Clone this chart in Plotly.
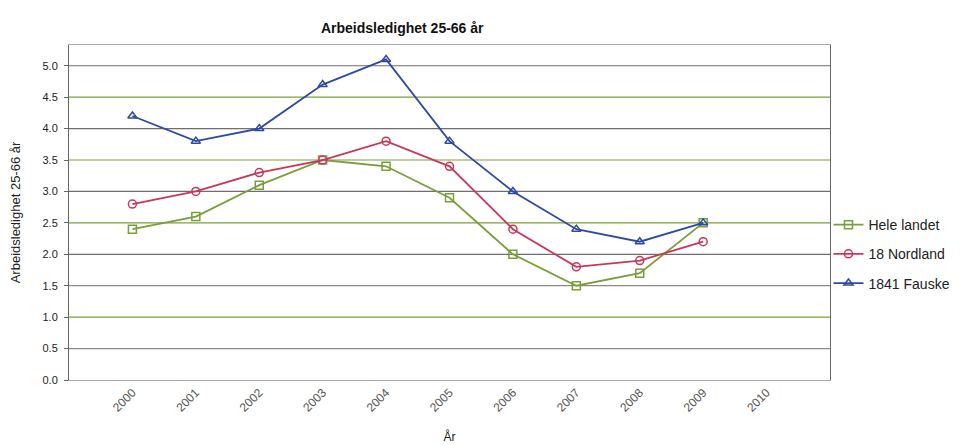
import plotly.graph_objects as go

# data
years = [2000, 2001, 2002, 2003, 2004, 2005, 2006, 2007, 2008, 2009]
tick_years = [2000, 2001, 2002, 2003, 2004, 2005, 2006, 2007, 2008, 2009, 2010]
hele_landet = [2.4, 2.6, 3.1, 3.5, 3.4, 2.9, 2.0, 1.5, 1.7, 2.5]
nordland = [2.8, 3.0, 3.3, 3.5, 3.8, 3.4, 2.4, 1.8, 1.9, 2.2]
fauske = [4.2, 3.8, 4.0, 4.7, 5.1, 3.8, 3.0, 2.4, 2.2, 2.5]
grid_levels = [0.5, 1.0, 1.5, 2.0, 2.5, 3.0, 3.5, 4.0, 4.5, 5.0]
grid_colors = ['#8a8a8a', '#7aa03a', '#8a8a8a', '#6e6e6e', '#7aa03a',
               '#6e6e6e', '#7aa03a', '#6e6e6e', '#7aa03a', '#6e6e6e']

series = [
    ('Hele landet', hele_landet, '#7a9e3c', 'square-open'),
    ('18 Nordland', nordland, '#c8375a', 'circle-open'),
    ('1841 Fauske', fauske, '#2f4a9e', 'triangle-up-open'),
]

fig = go.Figure()
for name, vals, color, symbol in series:
    fig.add_trace(go.Scatter(
        x=years, y=vals, name=name, legendgroup=name, mode='lines+markers',
        line=dict(color=color, width=1.8),
        marker=dict(symbol=symbol, size=8, color=color,
                    line=dict(width=1.5, color=color)),
    ))

# coloured horizontal gridlines (alternating grey / green as in the scan)
for lvl, col in zip(grid_levels, grid_colors):
    fig.add_shape(type='line', xref='paper', x0=0, x1=1, yref='y',
                  y0=lvl, y1=lvl, line=dict(color=col, width=1.2),
                  layer='below')

fig.update_layout(
    width=971, height=445,
    paper_bgcolor='white', plot_bgcolor='white',
    font=dict(family='Liberation Sans, Arial, sans-serif', size=12,
              color='#222'),
    title=dict(text='<b>Arbeidsledighet 25-66 år</b>', x=0.406, y=0.955,
               xanchor='center', yanchor='middle',
               font=dict(size=14, color='#111')),
    margin=dict(l=61, r=149, t=37, b=73),
    legend=dict(x=0.998, y=0.376, xanchor='left', yanchor='middle',
                font=dict(size=14, color='#222'), tracegroupgap=8,
                traceorder='grouped', itemwidth=30,
                bgcolor='rgba(0,0,0,0)'),
    xaxis=dict(
        range=[1999, 2011], tickmode='array', tickvals=tick_years,
        ticktext=[str(t) for t in tick_years], tickangle=-45,
        tickfont=dict(size=12, color='#555'), showgrid=False,
        showline=True, linecolor='#aaa', mirror=True, ticks='',
        title=dict(text='År', font=dict(size=12), standoff=18),
        zeroline=False, automargin=False,
    ),
    yaxis=dict(
        range=[0, 5.33], tickmode='array', tickvals=[0] + grid_levels,
        tickformat='.1f', tickfont=dict(size=11, color='#222'),
        showgrid=False, showline=True, linecolor='#666', mirror=True,
        ticks='outside', ticklen=4, tickcolor='#666', ticklabelstandoff=4,
        title=dict(text='Arbeidsledighet 25-66 år', font=dict(size=13),
                   standoff=20),
        zeroline=False, automargin=False,
    ),
)

fig.write_html('out.html')
